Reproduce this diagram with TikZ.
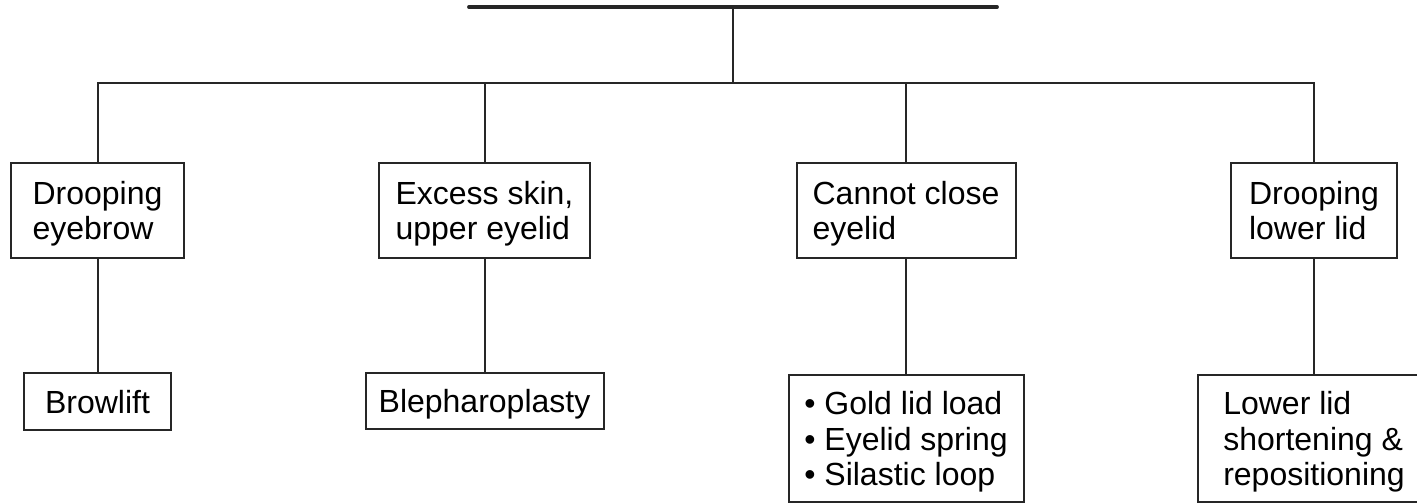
\documentclass[tikz,border=0pt]{standalone}
\usepackage{fontspec}
\setmainfont{Liberation Sans}
\begin{document}
\begin{tikzpicture}[x=1pt,y=-1pt,
  box/.style={draw=black!85, line width=2pt, inner sep=0pt, align=left, text depth=0pt,
    font=\fontsize{32}{35.5}\selectfont},
  link/.style={draw=black!85, line width=2pt}]
\useasboundingbox (0,0) rectangle (1417,503);
\clip (0,0) rectangle (1417,503);
\node[minimum width=528pt, minimum height=80pt, inner sep=0pt] (top) at (733,-33) {};
\draw[link, line width=3.4pt, line cap=round] (top.south west) -- (top.south east);
\coordinate (bar) at (0,83);
\node[box, minimum width=173pt, minimum height=95pt] (b1) at (97.5,210.5) {Drooping\\eyebrow};
\node[box, minimum width=211pt, minimum height=95pt] (b2) at (484.5,210.5) {Excess skin,\\upper eyelid};
\node[box, minimum width=219pt, minimum height=95pt] (b3) at (906,210.5) {Cannot close\\eyelid};
\node[box, minimum width=166pt, minimum height=95pt] (b4) at (1314,210.5) {Drooping\\lower lid};
\node[box, minimum width=147pt, minimum height=57pt] (c1) at (97.5,401.5) {Browlift};
\node[box, minimum width=238pt, minimum height=56pt] (c2) at (484.5,401) {Blepharoplasty};
\node[box, minimum width=235pt, minimum height=127pt] (c3) at (906,438.5) {• Gold lid load\\• Eyelid spring\\• Silastic loop};
\node[box, minimum width=232pt, minimum height=127pt] (c4) at (1314,438.5) {Lower lid\\shortening \&\\repositioning};
\draw[link] (top.south) -- (top.south |- bar);
\draw[link] (b1.north) -- (b1.north |- bar) -- (b4.north |- bar) -- (b4.north);
\draw[link] (b2.north) -- (b2.north |- bar);
\draw[link] (b3.north) -- (b3.north |- bar);
\draw[link] (b1.south) -- (c1.north);
\draw[link] (b2.south) -- (c2.north);
\draw[link] (b3.south) -- (c3.north);
\draw[link] (b4.south) -- (c4.north);
\end{tikzpicture}
\end{document}
